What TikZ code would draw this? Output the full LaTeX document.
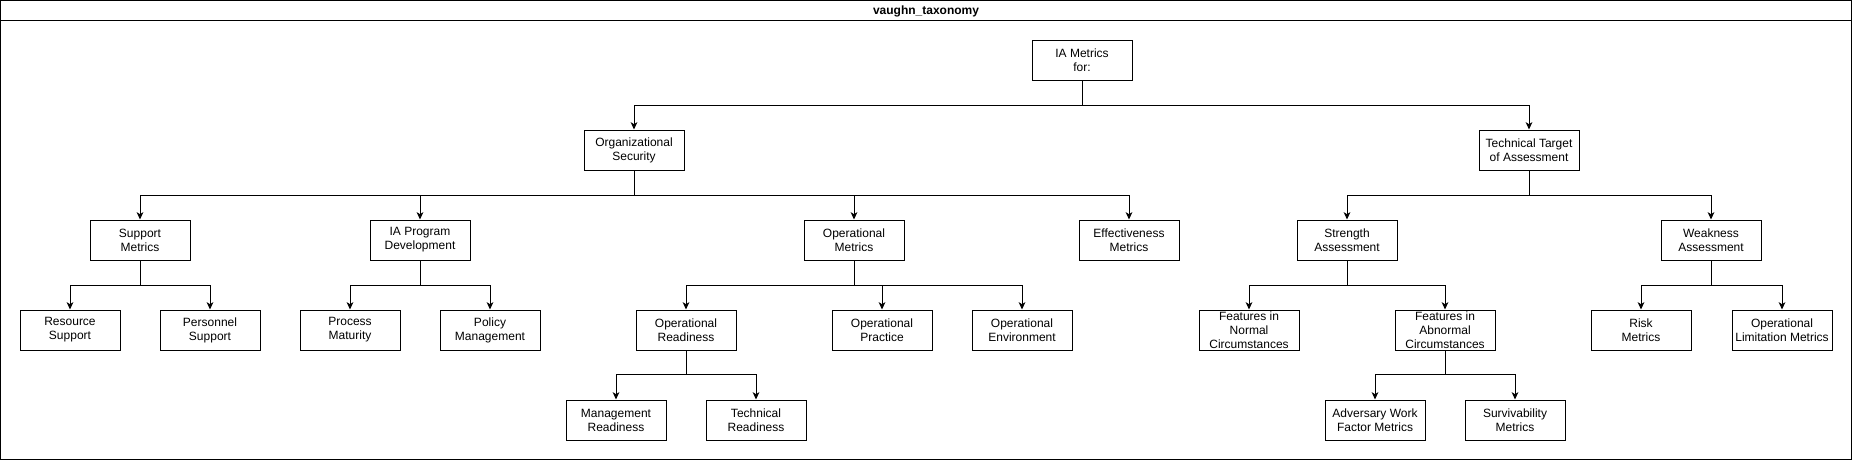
\documentclass[tikz,border=0pt]{standalone}
\usepackage{fontspec}
\setmainfont{Liberation Sans}
\usetikzlibrary{arrows.meta}
\tikzset{
  box/.style={draw=black, line width=0.75pt, rectangle, minimum width=75pt, minimum height=30pt,
    inner sep=0pt, align=center, font=\fontsize{9}{10.5}\selectfont, fill=white},
  arr/.style={draw=black, line width=0.75pt, -{Stealth[length=5.5pt,width=5pt,inset=1.5pt]}},
  frame/.style={draw=black, line width=0.75pt},
  titletext/.style={font=\fontsize{9}{10.5}\selectfont\bfseries, inner sep=0pt, anchor=base}
}
\begin{document}
\begin{tikzpicture}[x=0.75pt,y=-0.75pt]
\useasboundingbox (0,0) rectangle (1853,461);
\fill[white] (0,0) rectangle (1853,461);
\draw[frame] (0.5,0.5) rectangle (1851.5,459.5);
\draw[frame] (0.5,20) -- (1851.5,20);
\node[titletext] (title) at (926,14.3) {vaughn\_taxonomy};

% level 0/1
\node[box] (root) at (1082,60) {IA Metrics\\for:};
\node[box] (org) at (634,150) {Organizational\\Security};
\node[box] (tech) at (1529,150) {Technical Target\\of Assessment};
% level 2
\node[box] (sup) at (140,240) {Support\\Metrics};
\node[box] (iap) at (420,240) {IA Program\\Development};
\node[box] (opm) at (854,240) {Operational\\Metrics};
\node[box] (eff) at (1129,240) {Effectiveness\\Metrics};
\node[box] (str) at (1347,240) {Strength\\Assessment};
\node[box] (weak) at (1711,240) {Weakness\\Assessment};
% level 3
\node[box] (res) at (70,330) {Resource\\Support};
\node[box] (per) at (210,330) {Personnel\\Support};
\node[box] (proc) at (350,330) {Process\\Maturity};
\node[box] (pol) at (490,330) {Policy\\Management};
\node[box] (ord) at (686,330) {Operational\\Readiness};
\node[box] (opp) at (882,330) {Operational\\Practice};
\node[box] (ope) at (1022,330) {Operational\\Environment};
\node[box] (fnc) at (1249,330) {Features in\\Normal\\Circumstances};
\node[box] (fac) at (1445,330) {Features in\\Abnormal\\Circumstances};
\node[box] (risk) at (1641,330) {Risk\\Metrics};
\node[box] (olm) at (1782,330) {Operational\\Limitation Metrics};
% level 4
\node[box] (mgr) at (616,420) {Management\\Readiness};
\node[box] (tr) at (756,420) {Technical\\Readiness};
\node[box] (awf) at (1375,420) {Adversary Work\\Factor Metrics};
\node[box] (surv) at (1515,420) {Survivability\\Metrics};

% connectors
\foreach \p/\c in {root/org, root/tech,
  org/sup, org/iap, org/opm, org/eff,
  tech/str, tech/weak,
  sup/res, sup/per, iap/proc, iap/pol,
  opm/ord, opm/opp, opm/ope,
  str/fnc, str/fac, weak/risk, weak/olm}
  \draw[arr] (\p.south) -- ++(0,25) -| (\c.north);
\foreach \p/\c in {ord/mgr, ord/tr, fac/awf, fac/surv}
  \draw[arr] (\p.south) -- ++(0,24) -| (\c.north);
\end{tikzpicture}
\end{document}
